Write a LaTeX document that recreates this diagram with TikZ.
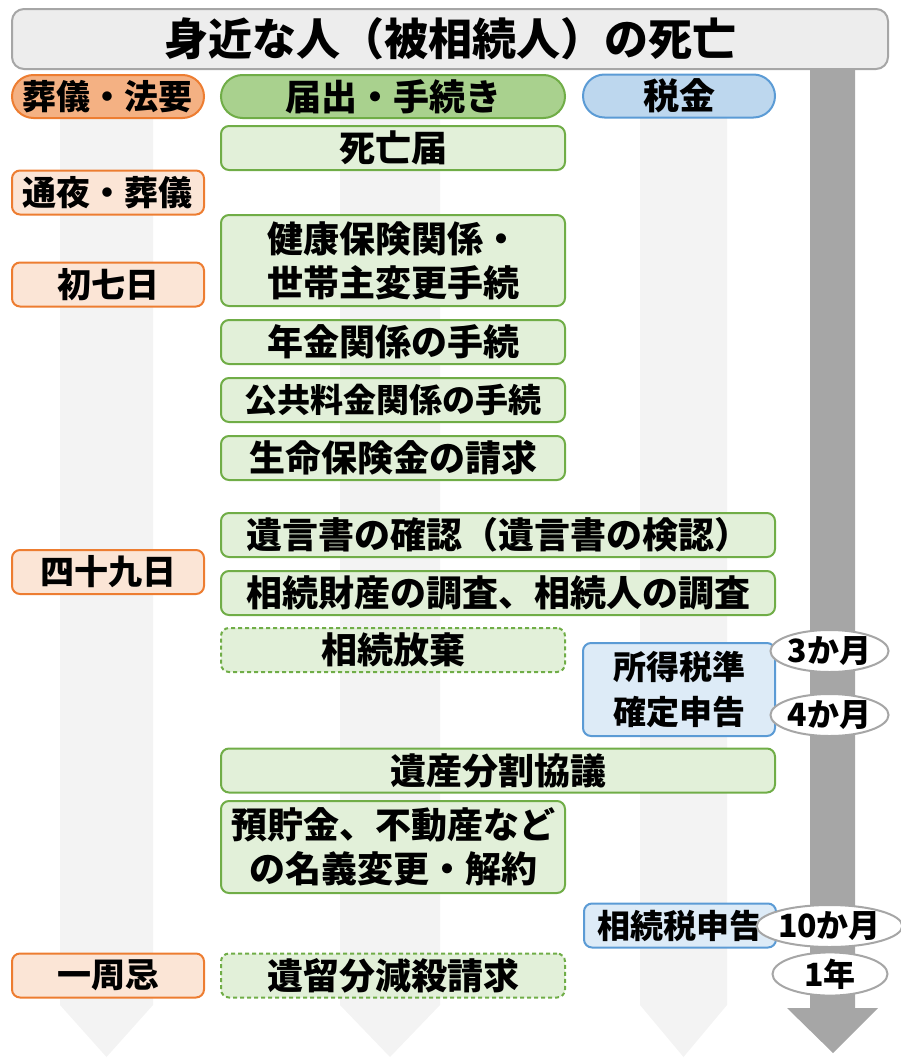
\documentclass[tikz,border=0pt]{standalone}
\usepackage{fontspec}
\setmainfont{Noto Sans CJK JP}
\usepackage{xcolor}
\usepackage{tikz}
\usetikzlibrary{shapes.geometric}
\definecolor{gris}{RGB}{166,166,166}
\definecolor{niebla}{RGB}{237,237,237}
\definecolor{bruma}{RGB}{243,243,243}
\definecolor{naranja}{RGB}{237,125,49}
\definecolor{naranjaf}{RGB}{244,177,131}
\definecolor{naranjac}{RGB}{251,229,214}
\definecolor{verde}{RGB}{112,173,71}
\definecolor{verdef}{RGB}{169,209,142}
\definecolor{verdec}{RGB}{226,240,217}
\definecolor{azul}{RGB}{91,155,213}
\definecolor{azulf}{RGB}{189,215,238}
\definecolor{azulc}{RGB}{221,235,247}

\begin{document}
\begin{tikzpicture}[x=0.5pt, y=-0.5pt, font=\bfseries\fontsize{18}{22}\selectfont,
  base/.style={draw, line width=1pt, rounded corners=4pt, align=center, inner sep=0pt, minimum height=22pt},
  pill/.style={rounded corners=10.75pt, minimum height=21.5pt},
  sogi/.style={base, draw=naranja, fill=naranjac, minimum width=96pt, font=\bfseries\fontsize{17}{20}\selectfont},
  tetsuzuki/.style={base, draw=verde, fill=verdec, minimum width=172pt},
  ancho/.style={minimum width=277pt},
  zeikin/.style={base, draw=azul, fill=azulc, minimum width=96pt, font=\bfseries\fontsize{16.5}{22.5}\selectfont},
  kigen/.style={ellipse, draw=gris, fill=white, line width=1pt, minimum width=57.5pt, minimum height=21pt, inner sep=0pt, font=\bfseries\fontsize{16}{18}\selectfont},
  dudoso/.style={dash pattern=on 2pt off 1.5pt}]
  \useasboundingbox (0,0) rectangle (900,1060);
  \foreach \a/\b in {60/153, 340/440, 640/727}
    \fill[bruma] (\a,118) -- (\b,118) -- (\b,1005) -- ({(\a+\b)/2},1057) -- (\a,1005) -- cycle;
  \fill[gris] (810,69) -- (855,69) -- (855,1008) -- (878,1008) -- (833,1053) -- (787,1008) -- (810,1008) -- cycle;
  \node[base, draw=gris, fill=niebla, rounded corners=6pt, minimum width=438pt, minimum height=30pt, font=\bfseries\fontsize{22}{24}\selectfont] (muerte) at (450,39) {身近な人（被相続人）の死亡};

  \node[sogi, pill, fill=naranjaf] (sogi) at (108,96.5) {葬儀・法要};
  \node[sogi] (tsuya) at (108,192.5) {通夜・葬儀};
  \node[sogi] (shonanoka) at (108,284.5) {初七日};
  \node[sogi] (shijuku) at (108,572) {四十九日};
  \node[sogi] (isshuki) at (108,975.5) {一周忌};

  \node[tetsuzuki, pill, fill=verdef] (todoke) at (393,96.5) {届出・手続き};
  \node[tetsuzuki] (shibo) at (393,148) {死亡届};
  \node[tetsuzuki, minimum height=45.5pt] (kenko) at (393,260.5) {健康保険関係・\\世帯主変更手続};
  \node[tetsuzuki] (nenkin) at (393,342) {年金関係の手続};
  \node[tetsuzuki, font=\bfseries\fontsize{16.5}{20}\selectfont] (kokyo) at (393,400) {公共料金関係の手続};
  \node[tetsuzuki] (seimei) at (393,458) {生命保険金の請求};
  \node[tetsuzuki, ancho] (yuigon) at (498,535) {遺言書の確認（遺言書の検認）};
  \node[tetsuzuki, ancho] (chosa) at (498,593) {相続財産の調査、相続人の調査};
  \node[tetsuzuki, dudoso] (hoki) at (393,650) {相続放棄};
  \node[tetsuzuki, ancho] (bunkatsu) at (498,770.5) {遺産分割協議};
  \node[tetsuzuki, minimum height=46pt] (meigi) at (393,847) {預貯金、不動産など\\の名義変更・解約};
  \node[tetsuzuki, dudoso] (iryubun) at (393,975.5) {遺留分減殺請求};

  \node[zeikin, pill, fill=azulf, font=\bfseries\fontsize{18}{22}\selectfont] (zeikin) at (679,96) {税金};
  \node[zeikin, minimum height=46.5pt] (shotoku) at (679,689.5) {所得税準\\確定申告};
  \node[zeikin] (sozoku) at (680,925.5) {相続税申告};

  \node[kigen] (m3) at (829.5,651) {3か月};
  \node[kigen] (m4) at (829.5,715) {4か月};
  \node[kigen] (m10) at (829.5,926) {10か月};
  \node[kigen] (y1) at (830,974) {1年};
\end{tikzpicture}
\end{document}
